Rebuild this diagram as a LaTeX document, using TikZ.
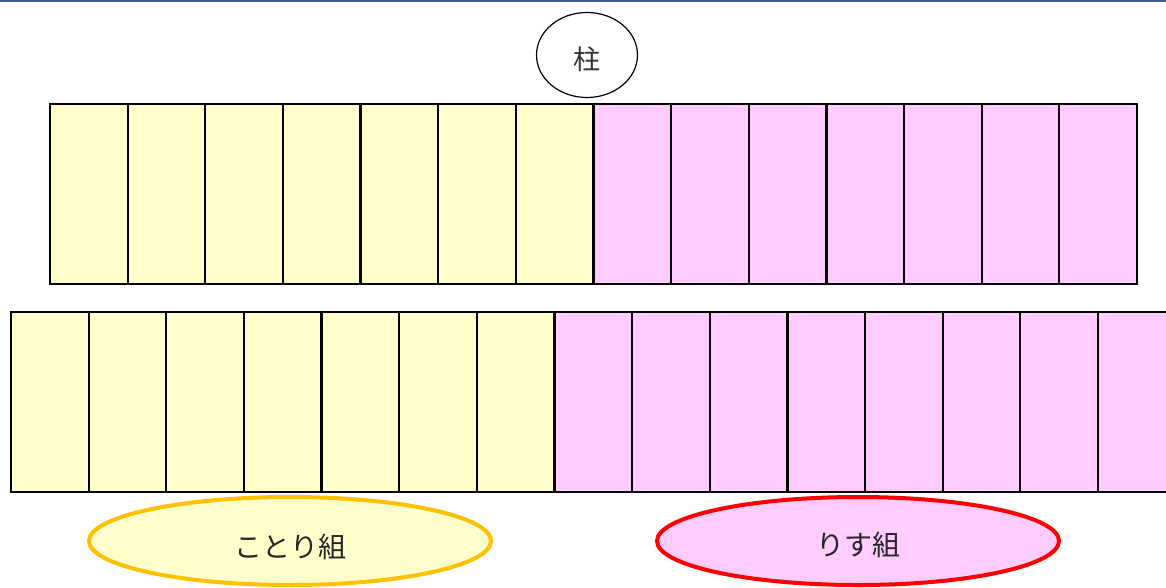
\documentclass[tikz,border=0pt]{standalone}
\usepackage{fontspec}
\usetikzlibrary{shapes.geometric}
\newfontfamily\jp{Noto Sans CJK JP}
\definecolor{ylw}{HTML}{FFFFCC}
\definecolor{pnk}{HTML}{FFCCFF}
\definecolor{topblue}{HTML}{3F5F8F}
\definecolor{orng}{HTML}{FFC000}
\begin{document}
\begin{tikzpicture}[x=1pt,y=-1pt,
  cell/.style={draw=black,line width=2.2pt,minimum width=77.64pt,minimum height=180pt,anchor=north west,inner sep=0pt,outer sep=0pt},
  grp/.style={ellipse,line width=4pt,minimum width=402pt,minimum height=88pt,inner sep=0pt},
  grplabel/.style={font=\jp\fontsize{28}{32}\selectfont,text=black!85}]
\useasboundingbox (0,0) rectangle (1166,587);
\clip (0,0) rectangle (1166,587);
\fill[topblue] (0,0) rectangle (1166,2);
\foreach \i in {0,...,13}{
  \pgfmathsetmacro{\xx}{50+77.64*\i}
  \ifnum\i<7 \def\fc{ylw}\else\def\fc{pnk}\fi
  \node[cell,fill=\fc] (t\i) at (\xx,104) {};
}
\foreach \i in {0,...,14}{
  \pgfmathsetmacro{\xx}{11+77.64*\i}
  \ifnum\i<7 \def\fc{ylw}\else\def\fc{pnk}\fi
  \node[cell,fill=\fc] (b\i) at (\xx,312) {};
}
\node[draw=black,line width=1.2pt,ellipse,minimum width=101pt,minimum height=85pt,inner sep=0pt,font=\jp\fontsize{27}{30}\selectfont,text=black!80] (pillar) at (587,55) {};
\node[font=\jp\fontsize{27}{30}\selectfont,text=black!80] (pillarlabel) at (587,59) {柱};
\node[grp,draw=orng,fill=ylw] (kotori) at (290,541) {};
\node[grplabel] (kotorilabel) at (290,547) {ことり組};
\node[grp,draw=red,fill=pnk] (risu) at (858,541) {};
\node[grplabel] (risulabel) at (858,545) {りす組};
\end{tikzpicture}
\end{document}
